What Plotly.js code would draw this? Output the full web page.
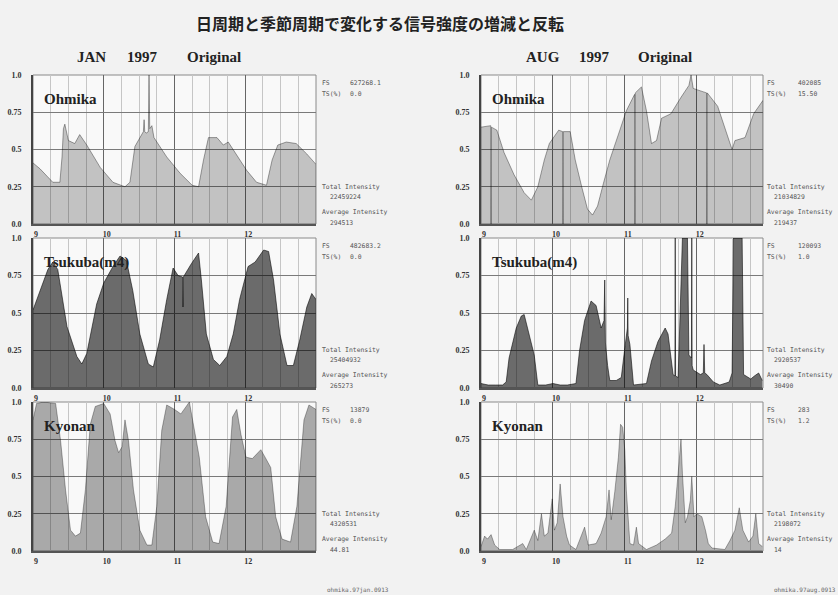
<!DOCTYPE html>
<html><head><meta charset="utf-8">
<script src="https://cdn.plot.ly/plotly-3.0.1.min.js"></script>
<style>html,body{margin:0;padding:0;background:#f2f2f2;}#chart{width:838px;height:595px;}</style>
</head><body><div id="chart"></div>
<script>
// ---- data (day of month, relative signal strength) ----
const janOhmika = [[9.0,.41],[9.1,.37],[9.2,.32],[9.28,.28],[9.38,.28],[9.41,.45],[9.43,.64],[9.45,.67],[9.5,.56],[9.59,.54],[9.66,.60],[9.76,.53],[9.95,.38],[10.13,.28],[10.3,.25],[10.37,.28],[10.44,.52],[10.51,.58],[10.56,.62],[10.57,.70],[10.58,.62],[10.6,.61],[10.63,.62],[10.64,1.0],[10.65,.64],[10.68,.66],[10.71,.58],[10.89,.45],[11.08,.34],[11.25,.26],[11.34,.25],[11.41,.43],[11.48,.58],[11.6,.58],[11.69,.53],[11.76,.55],[11.83,.50],[12.02,.36],[12.16,.28],[12.3,.26],[12.38,.43],[12.46,.53],[12.58,.55],[12.72,.54],[12.87,.47],[13.0,.40]];
const janTsukuba = [[9.0,.52],[9.1,.65],[9.21,.79],[9.28,.84],[9.35,.79],[9.48,.41],[9.62,.21],[9.69,.16],[9.76,.23],[9.9,.56],[10.0,.70],[10.13,.81],[10.23,.88],[10.32,.85],[10.41,.65],[10.51,.36],[10.63,.16],[10.7,.14],[10.79,.32],[10.89,.59],[10.98,.80],[11.05,.75],[11.115,.74],[11.12,.54],[11.125,.74],[11.24,.83],[11.34,.90],[11.38,.72],[11.45,.36],[11.55,.19],[11.64,.15],[11.74,.21],[11.83,.36],[11.92,.59],[12.04,.81],[12.14,.84],[12.26,.92],[12.33,.91],[12.4,.72],[12.49,.36],[12.59,.15],[12.68,.15],[12.77,.32],[12.87,.54],[12.94,.63],[13.0,.59]];
const janKyonan = [[9.0,.88],[9.05,.99],[9.15,1.0],[9.32,.99],[9.39,.74],[9.46,.41],[9.53,.14],[9.6,.10],[9.67,.12],[9.74,.41],[9.81,.85],[9.88,.97],[10.0,.99],[10.09,.92],[10.16,.74],[10.21,.66],[10.26,.70],[10.3,.88],[10.35,.74],[10.42,.41],[10.51,.14],[10.61,.04],[10.68,.04],[10.75,.30],[10.82,.81],[10.89,.98],[11.0,.95],[11.09,.92],[11.21,1.0],[11.25,.90],[11.35,.63],[11.44,.23],[11.54,.06],[11.63,.05],[11.73,.30],[11.82,.90],[11.88,.95],[11.94,.78],[12.01,.63],[12.1,.62],[12.22,.68],[12.28,.63],[12.36,.56],[12.43,.23],[12.52,.08],[12.64,.06],[12.73,.30],[12.83,.88],[12.9,.98],[13.0,.95]];
const augOhmika = [[9.0,.65],[9.1,.66],[9.135,.66],[9.14,0],[9.145,.65],[9.22,.63],[9.32,.48],[9.46,.33],[9.6,.21],[9.7,.16],[9.79,.25],[9.88,.43],[9.95,.54],[10.08,.63],[10.135,.62],[10.14,0],[10.145,.62],[10.24,.62],[10.31,.43],[10.4,.25],[10.48,.10],[10.55,.06],[10.62,.12],[10.7,.27],[10.79,.43],[10.93,.63],[11.02,.76],[11.135,.87],[11.14,0],[11.145,.88],[11.23,.92],[11.3,.76],[11.37,.54],[11.44,.56],[11.51,.71],[11.64,.74],[11.78,.85],[11.89,.93],[11.92,1.0],[11.95,.91],[12.01,.90],[12.135,.88],[12.14,0],[12.145,.88],[12.29,.79],[12.39,.65],[12.49,.50],[12.53,.56],[12.67,.58],[12.79,.74],[12.87,.80],[12.92,.83]];
const augTsukuba = [[9.0,.03],[9.1,.02],[9.2,.02],[9.3,.02],[9.35,.04],[9.39,.20],[9.49,.40],[9.56,.48],[9.6,.49],[9.67,.36],[9.74,.22],[9.79,.02],[9.9,.02],[10.0,.03],[10.1,.02],[10.2,.02],[10.32,.03],[10.37,.25],[10.44,.45],[10.53,.58],[10.6,.55],[10.67,.40],[10.71,.45],[10.72,.72],[10.73,.30],[10.76,.15],[10.79,.05],[10.88,.05],[10.95,.07],[11.0,.27],[11.035,.40],[11.04,.60],[11.045,.35],[11.07,.29],[11.12,.02],[11.3,.03],[11.37,.18],[11.46,.31],[11.56,.40],[11.6,.36],[11.67,.09],[11.695,.08],[11.70,1.0],[11.705,.08],[11.74,.07],[11.77,.58],[11.80,1.0],[11.87,1.0],[11.89,.22],[11.925,.20],[11.93,1.0],[11.935,.15],[11.95,.12],[12.05,.09],[12.09,.10],[12.1,.29],[12.11,.10],[12.14,.09],[12.23,.04],[12.32,.02],[12.45,.04],[12.49,.10],[12.51,1.0],[12.63,1.0],[12.65,.09],[12.75,.06],[12.8,.08],[12.86,.10],[12.91,.05]];
const augKyonan = [[9.0,.03],[9.05,.10],[9.09,.08],[9.14,.11],[9.19,.04],[9.26,.01],[9.44,.01],[9.58,.05],[9.63,.01],[9.74,.14],[9.79,.07],[9.84,.25],[9.88,.10],[9.93,.12],[9.99,.35],[10.02,.14],[10.06,.19],[10.1,.45],[10.14,.23],[10.19,.10],[10.23,.04],[10.32,.01],[10.44,.16],[10.49,.04],[10.6,.05],[10.67,.12],[10.74,.23],[10.78,.41],[10.81,.21],[10.86,.40],[10.91,.63],[10.94,.85],[10.97,.83],[11.0,.67],[11.02,.41],[11.07,.05],[11.12,.04],[11.16,.16],[11.19,.05],[11.3,.01],[11.44,.04],[11.56,.08],[11.65,.12],[11.70,.30],[11.74,.52],[11.78,.75],[11.80,.52],[11.84,.19],[11.87,.23],[11.91,.34],[11.93,.50],[11.96,.23],[12.0,.25],[12.07,.23],[12.12,.14],[12.16,.05],[12.21,.02],[12.39,.01],[12.46,.07],[12.53,.14],[12.59,.29],[12.64,.14],[12.72,.06],[12.78,.10],[12.82,.25],[12.86,.05],[12.91,.03]];

const stationNames = ['Ohmika','Tsukuba(m4)','Kyonan','Ohmika','Tsukuba(m4)','Kyonan'];
const xTickVals = [9,10,11,12];
const xTickText = ['9','10','11','12'];
const yTickVals = [0,0.25,0.5,0.75,1.0];
const yTickText = ['0.0','0.25','0.5','0.75','1.0'];
const mainTitle = '日周期と季節周期で変化する信号強度の増減と反転';
const headJan = ['JAN','1997','Original'];
const headAug = ['AUG','1997','Original'];
const fsValues = ['627268.1','482683.2','13879','402085','120093','283'];
const tsValues = ['0.0','0.0','0.0','15.50','1.0','1.2'];
const totalValues = ['22459224','25404932','4320531','21034829','2920537','2198072'];
const averageValues = ['294513','265273','44.81','219437','30490','14'];
const footNotes = ['ohmika.97jan.0913','ohmika.97aug.0913'];

// ---- layout helpers ----
const W = 838, H = 595;
const fx = p => p / W, fy = p => 1 - p / H;
const colPx = [[33,316],[481,763]];
const rowPx = [[75,224],[238,388],[402,551]];
const xRanges = [[9,13],[9,12.92]];
const series = [janOhmika, janTsukuba, janKyonan, augOhmika, augTsukuba, augKyonan];
const fills = ['rgba(0,0,0,0.22)','rgba(0,0,0,0.57)','rgba(0,0,0,0.32)','rgba(0,0,0,0.22)','rgba(0,0,0,0.57)','rgba(0,0,0,0.28)'];
const lines = ['rgba(0,0,0,0.45)','rgba(0,0,0,0.7)','rgba(0,0,0,0.4)','rgba(0,0,0,0.45)','rgba(0,0,0,0.7)','rgba(0,0,0,0.4)'];

const data = [], layout = {
  width: W, height: H, margin: {l:0,r:0,t:0,b:0},
  paper_bgcolor: '#f2f2f2', plot_bgcolor: '#f9f9f9', showlegend: false,
  font: {family: 'Liberation Serif', color: '#333'},
  annotations: [], shapes: []
};
const tickFont = {family: 'Liberation Serif', size: 8, color: '#333', weight: 'bold'};
const sideFont = {family: 'DejaVu Sans Mono', size: 6.4, color: '#555'};

for (let i = 0; i < 6; i++) {
  const c = i < 3 ? 0 : 1, r = i % 3, n = i + 1;
  const xa = 'xaxis' + (n === 1 ? '' : n), ya = 'yaxis' + (n === 1 ? '' : n);
  const xr = 'x' + (n === 1 ? '' : n), yr = 'y' + (n === 1 ? '' : n);
  const s = series[i];
  data.push({
    type: 'scatter', mode: 'lines', x: s.map(p => p[0]), y: s.map(p => p[1]),
    xaxis: xr, yaxis: yr, fill: 'tozeroy', fillcolor: fills[i],
    line: {color: lines[i], width: 0.8}, hoverinfo: 'skip'
  });
  const [l, rt] = colPx[c], [t, b] = rowPx[r];
  layout[xa] = {
    domain: [fx(l), fx(rt)], anchor: yr, range: xRanges[c], tickmode: 'array',
    tickvals: xTickVals, ticktext: xTickText, showgrid: true, gridcolor: '#666', gridwidth: 1,
    minor: {tick0: 9, dtick: 0.25, showgrid: true, gridcolor: '#c6c6c6', gridwidth: 1, ticks: ''},
    showline: true, linecolor: '#555', linewidth: 2, zeroline: false, ticks: '',
    tickfont: tickFont, ticklabelshift: 3, ticklabelstandoff: 1, fixedrange: true
  };
  layout[ya] = {
    domain: [fy(b), fy(t)], anchor: xr, range: [0, 1], tickmode: 'array',
    tickvals: yTickVals, ticktext: yTickText, showgrid: true, gridcolor: '#7a7a7a', gridwidth: 1,
    showline: true, linecolor: '#444', linewidth: 2, zeroline: false, ticks: '',
    tickfont: tickFont, ticklabelstandoff: 8, fixedrange: true
  };
  layout.shapes.push({type: 'rect', xref: xr + ' domain', yref: yr + ' domain', x0: 0, x1: 1, y0: 0, y1: 1,
    line: {color: '#8a8a8a', width: 1}, layer: 'below'});
  // station label
  layout.annotations.push({xref: 'paper', yref: 'paper', x: fx(l + 9), y: fy(t + 24), xanchor: 'left', yanchor: 'middle',
    text: stationNames[i], showarrow: false, font: {family: 'Liberation Serif', size: 15, color: '#222', weight: 'bold'}});
  // side texts
  const sx = c === 0 ? 320 : 765, vx = c === 0 ? 348 : 796, tvx = c === 0 ? 328 : 772;
  const side = [
    [sx, t + 8, 'FS'], [vx, t + 8, fsValues[i]],
    [sx, t + 19, 'TS(%)'], [vx, t + 19, tsValues[i]],
    [sx, t + 112, 'Total Intensity'], [tvx, t + 122, totalValues[i]],
    [sx, t + 137, 'Average Intensity'], [tvx, t + 148, averageValues[i]]
  ];
  side.forEach(([x, y, txt]) => layout.annotations.push({xref: 'paper', yref: 'paper', x: fx(x), y: fy(y),
    xanchor: 'left', yanchor: 'middle', text: txt, showarrow: false, font: sideFont}));
}

// titles
layout.annotations.push({xref: 'paper', yref: 'paper', x: fx(380), y: fy(23), xanchor: 'center', yanchor: 'middle',
  text: mainTitle, showarrow: false, font: {family: 'Noto Sans CJK JP', size: 16, color: '#222', weight: 'bold'}});
const headFont = {family: 'Liberation Serif', size: 15, color: '#222', weight: 'bold'};
[[75, headJan[0]], [125, headJan[1]], [185, headJan[2]], [524, headAug[0]], [577, headAug[1]], [636, headAug[2]]]
  .forEach(([x, txt]) => layout.annotations.push({xref: 'paper', yref: 'paper', x: fx(x), y: fy(57),
    xanchor: 'left', yanchor: 'middle', text: txt, showarrow: false, font: headFont}));
[[325, footNotes[0]], [772, footNotes[1]]].forEach(([x, txt]) => layout.annotations.push({xref: 'paper', yref: 'paper',
  x: fx(x), y: fy(590), xanchor: 'left', yanchor: 'middle', text: txt, showarrow: false,
  font: {family: 'DejaVu Sans Mono', size: 6, color: '#666'}}));

Plotly.newPlot('chart', data, layout, {staticPlot: true, displayModeBar: false});
</script></body></html>
